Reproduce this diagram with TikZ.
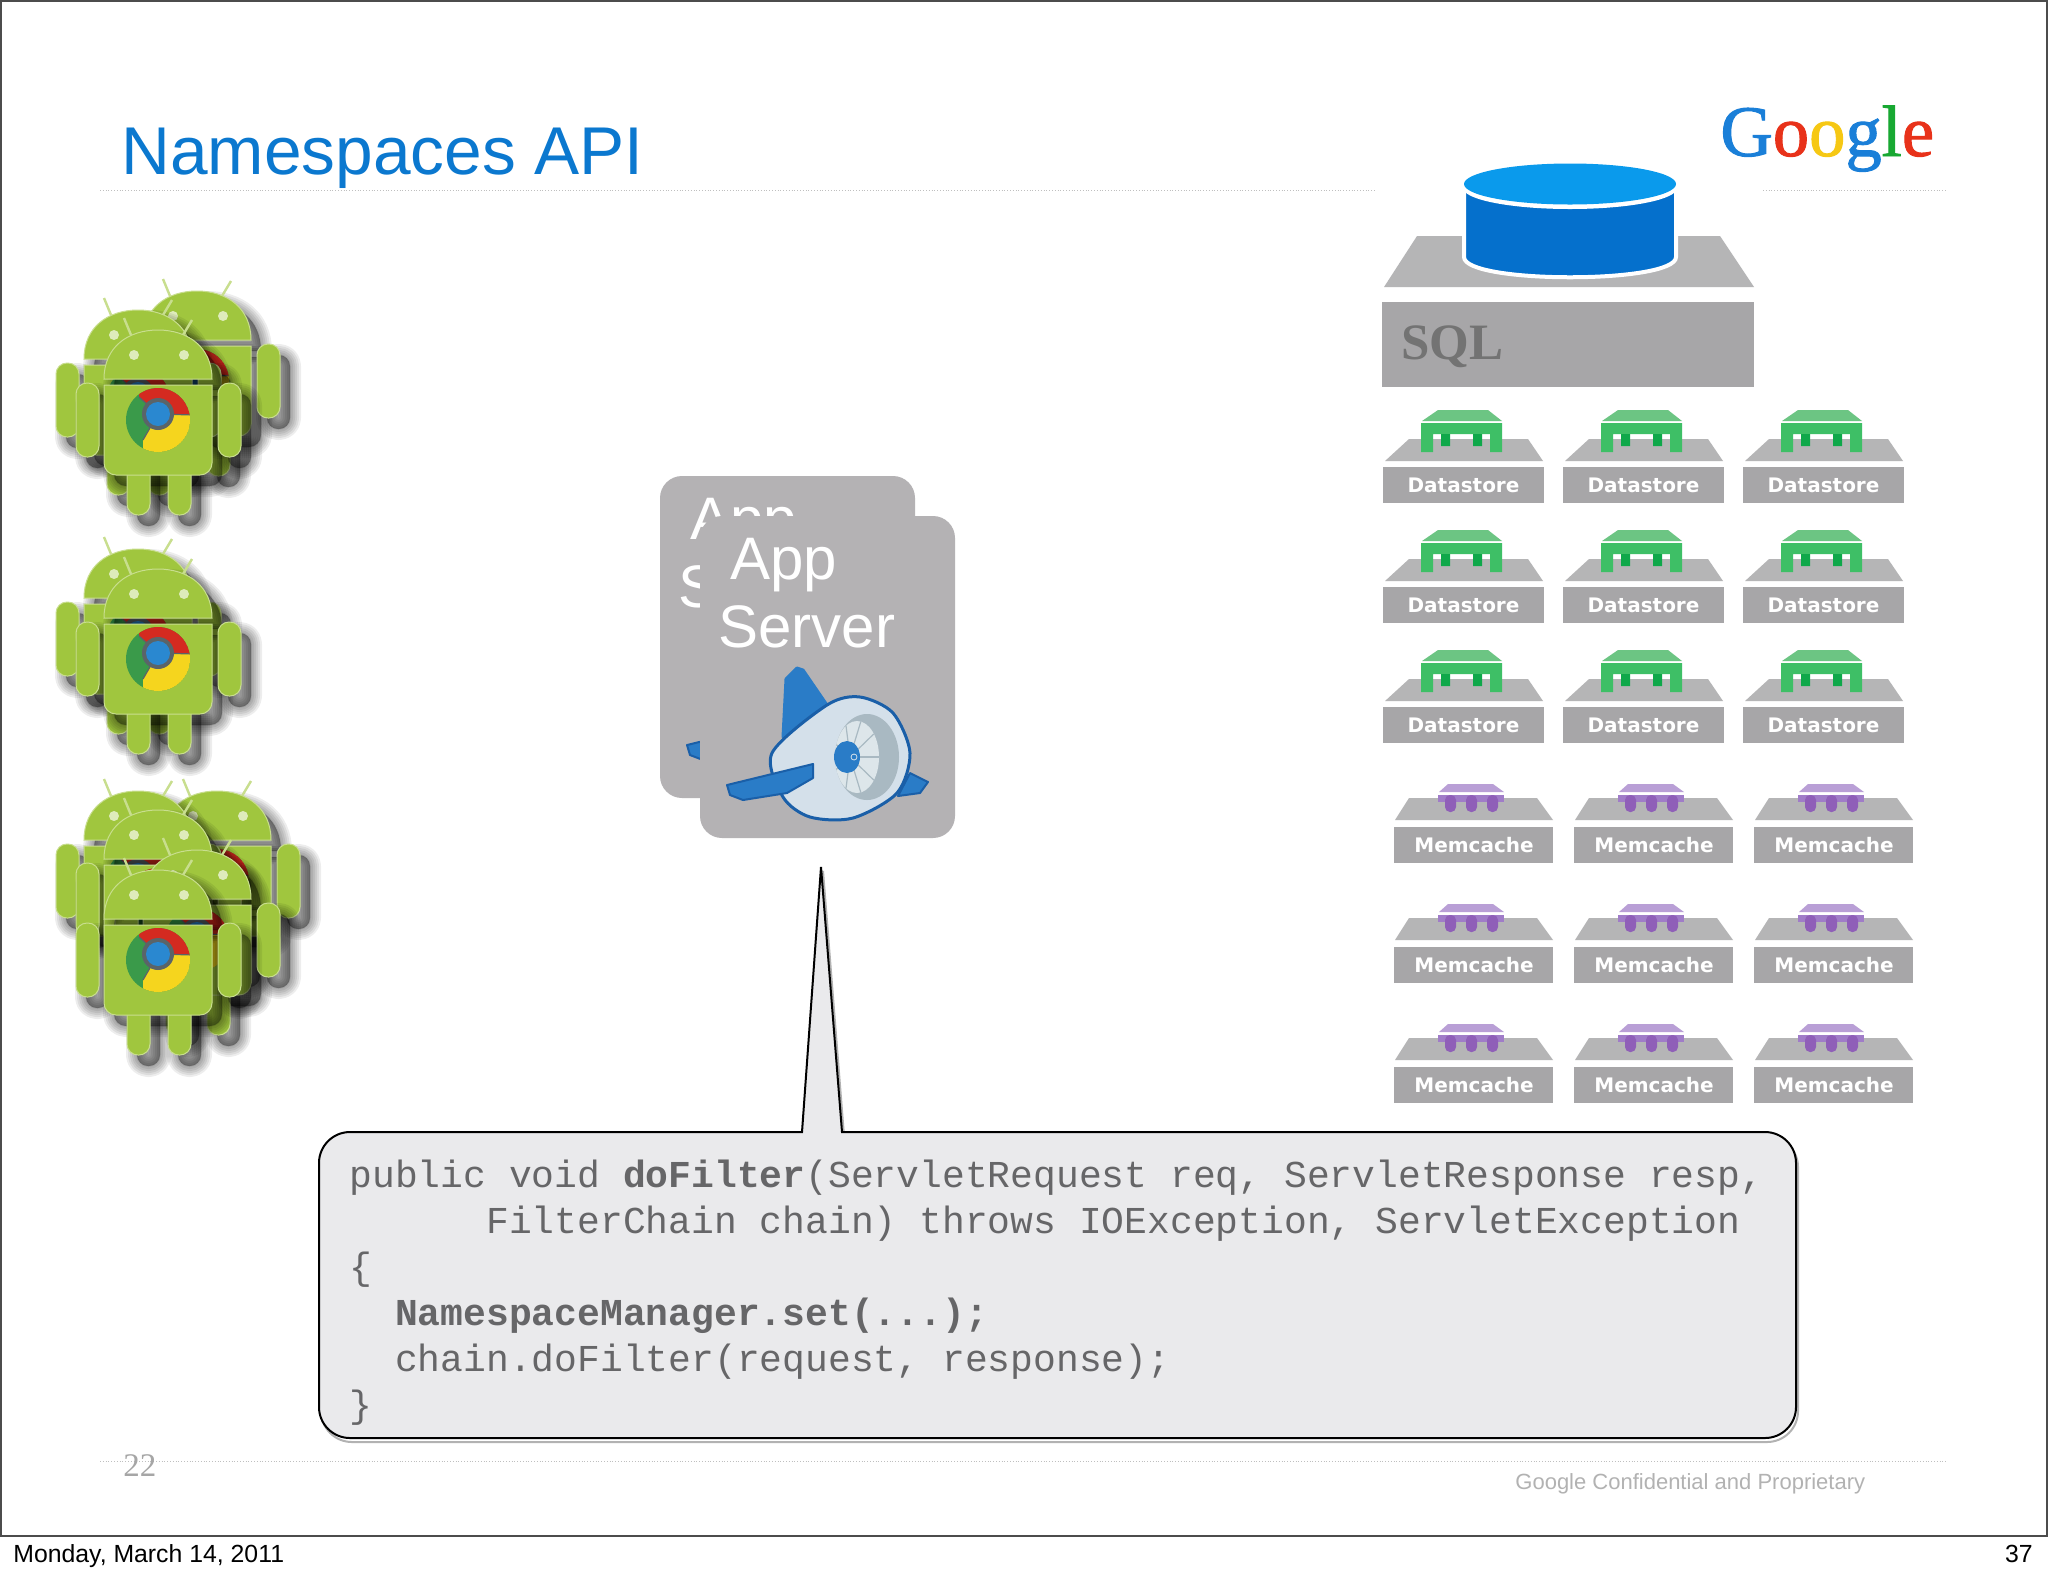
\documentclass[tikz,border=0pt]{standalone}
\usepackage{xcolor}
\usepackage{fontspec}
\usepackage{tikz}
\setmainfont{Liberation Sans}
\setmonofont{Liberation Mono}
\newfontfamily\serifbox{Liberation Serif}
\newfontfamily\logobox[FakeBold=1.3]{Liberation Serif}
\newfontfamily\labelbox{DejaVu Sans}

\definecolor{titleblue}{HTML}{0B78CF}
\definecolor{droidgreen}{HTML}{A0C63E}
\definecolor{droidedge}{HTML}{C8DE8E}
\definecolor{cardgray}{HTML}{B4B2B4}
\definecolor{topgray}{HTML}{B5B5B6}
\definecolor{boxgray}{HTML}{A7A6A8}
\definecolor{codegray}{HTML}{666668}
\definecolor{calloutgray}{HTML}{EAEAEC}
\definecolor{planeblue}{HTML}{2A7CC7}
\definecolor{planedark}{HTML}{1A5FA8}
\definecolor{planebody}{HTML}{D4E0EA}
\definecolor{planefan}{HTML}{A9B9C2}
\definecolor{planeblade}{HTML}{DDE6EA}
\definecolor{dbside}{HTML}{0570CC}
\definecolor{dbtop}{HTML}{0A9AEC}
\definecolor{dstop}{HTML}{6CC583}
\definecolor{dsfront}{HTML}{3EBF66}
\definecolor{dsdark}{HTML}{0FA84A}
\definecolor{mctop}{HTML}{B99FD6}
\definecolor{mcfront}{HTML}{A07CC8}
\definecolor{mcpeg}{HTML}{8F5FB8}
\definecolor{logoblue}{HTML}{1A7FD8}
\definecolor{logored}{HTML}{E8321A}
\definecolor{logoyellow}{HTML}{F6C814}
\definecolor{logogreen}{HTML}{18A832}
\definecolor{chromegreen}{HTML}{3A9A4A}
\definecolor{chromered}{HTML}{D42A20}
\definecolor{chromeyellow}{HTML}{F5D51E}
\definecolor{chromeblue}{HTML}{2A88D0}
\definecolor{chromering}{HTML}{5A6468}

\tikzset{
  pagetext/.style={inner sep=0pt, anchor=base west},
  cardtext/.style={pagetext, text=white, font=\fontsize{30}{31}\selectfont},
  boxtext/.style={inner sep=0pt, text=white, font=\labelbox\bfseries\fontsize{10}{12}\selectfont},
  dotline/.style={densely dotted, draw=black!25, line width=0.4pt},
  droidbody/.style={fill=droidgreen, draw=droidedge, line width=0.5pt},
  droidshadow/.style={fill=black, draw=black, opacity=0.07, line join=round}
}

% silhouette of one robot, origin at the top middle of its body
\newcommand{\droidshape}[1]{
  \path[#1] (-54,-6) .. controls (-54,-38) and (-30,-55) .. (0,-55)
      .. controls (30,-55) and (54,-38) .. (54,-6) -- cycle;
  \path[#1, rounded corners=5.5pt] (-82,-2) rectangle (-59,72);
  \path[#1, rounded corners=5.5pt] (60,-2) rectangle (83,72);
  \path[#1, rounded corners=5.5pt] (-31,70) rectangle (-8,130);
  \path[#1, rounded corners=5.5pt] (10,70) rectangle (33,130);
  \path[#1] (-54,0) -- (54,0) [rounded corners=6pt] -- (54,90) -- (-54,90) [sharp corners] -- cycle;
}

\newcommand{\droidbot}[2]{
  \begin{scope}[shift={(#1,#2)}]
    \begin{scope}[shift={(10,11)}]
      \foreach \w in {11,9,7,5,3,1} {\droidshape{droidshadow, line width=\w pt}}
    \end{scope}
    \draw[droidedge, line width=1.2pt] (-27,-50) -- (-34,-67) (25,-50) -- (34,-65);
    \droidshape{droidbody}
    \fill[droidedge!60!white] (-24,-30) circle (5) (26,-30) circle (5);
    % chrome logo
    \begin{scope}
      \clip (0,35) circle (32);
      \fill[chromegreen] (0,35) circle (32);
      \fill[chromered] (-19,12) -- (-19,-2) -- (36,-2) -- (36,30) -- (0,29) -- cycle;
      \fill[chromeyellow] (36,30) -- (36,70) -- (-15,70) -- (-15,55) -- (0,29) -- cycle;
      \draw[chromering, line width=0.6pt] (-19,12) -- (0,29) -- (36,30) (0,29) -- (-15,55);
    \end{scope}
    \fill[chromering] (0,29) circle (16);
    \fill[chromeblue] (0,29) circle (12);
  \end{scope}
}

\newcommand{\appcard}[3]{
  \begin{scope}[shift={(#2,#3)}]
    \fill[cardgray, rounded corners=11pt] (0,0) rectangle (255,322);
    \node[cardtext] (#1app) at (30,63) {App};
    \node[cardtext] (#1server) at (18,131) {Server};
    \filldraw[fill=planeblue, draw=planeblue, line width=1.5pt, line join=round] (86,163) -- (97,152) -- (103,154) -- (127,189) -- (83,221) -- cycle;
    \filldraw[fill=planeblue, draw=planedark, line width=1pt, line join=round] (210,257) -- (228,266) -- (220,277) -- (198,280) -- cycle;
    \filldraw[fill=planebody, draw=planedark, line width=1.5pt] plot[smooth cycle] coordinates
      {(72,237) (127,189) (160,181) (193,197) (210,237) (197,277) (153,302) (110,301) (83,281)};
    \fill[planefan] (167,241) ellipse [x radius=32, y radius=43];
    \fill[planeblade] (157,241) ellipse [x radius=22, y radius=36];
    \foreach \a in {0,40,...,320} {
      \draw[planefan, line width=0.6pt] (150,241) -- ({157+22*cos(\a)},{241+36*sin(\a)});
    }
    \fill[planeblue] (147,241) ellipse [x radius=13, y radius=16];
    \draw[planebody, line width=0.4pt] (154,241) circle (3);
    \filldraw[fill=planeblue, draw=planedark, line width=1pt, line join=round] (27,269) -- (113,248) -- (113,262) -- (87,277) -- (43,284) -- (30,279) -- cycle;
  \end{scope}
}

\newcommand{\datastorebox}[3]{
  \begin{scope}[shift={(#2,#3)}]
    \fill[topgray] (2,-6) -- (26,-28) -- (145,-28) -- (160,-6) -- cycle;
    \fill[boxgray] (0,0) rectangle (161,36);
    \node[boxtext] (#1) at (80.5,18) {Datastore};
    \fill[dstop] (39,-46) -- (55,-57) -- (105,-57) -- (119,-46) -- cycle;
    \fill[dsfront] (38,-44) -- (119,-44) -- (119,-15) -- (107,-15) -- (107,-33) -- (50,-33) -- (50,-15) -- (38,-15) -- cycle;
    \fill[dsdark] (58,-33) rectangle (67,-21) (90,-33) rectangle (99,-21);
  \end{scope}
}

\newcommand{\memcachebox}[3]{
  \begin{scope}[shift={(#2,#3)}]
    \fill[topgray] (1,-7) -- (15,-29) -- (143,-29) -- (159,-7) -- cycle;
    \fill[boxgray] (0,0) rectangle (159,36);
    \node[boxtext] (#1) at (80,18) {Memcache};
    \fill[mctop] (45,-35) -- (54,-43) -- (99,-43) -- (110,-35) -- cycle;
    \fill[mcfront] (44,-32) rectangle (110,-25);
    \foreach \px in {51,72,93} {
      \fill[mcpeg, rounded corners=2.5pt] (\px,-32) rectangle (\px+11,-15);
    }
  \end{scope}
}

\newcommand{\calloutpath}[1]{
  \path[#1] (802,1132) -- (821,867) -- (842,1132) [rounded corners=15.5pt] -- (1796,1132)
      -- (1796,1438) -- (319,1438) -- (319,1132) [sharp corners] -- (802,1132) -- cycle;
}

\begin{document}
\begin{tikzpicture}[x=0.5pt, y=-0.5pt]
  \useasboundingbox (0,0) rectangle (2048,1576);
  \fill[white] (0,0) rectangle (2048,1576);
  \draw[black!70, line width=1pt] (1,1) rectangle (2047,1536);

  \node[pagetext, text=titleblue, font=\fontsize{33.8}{36}\selectfont] (title) at (121,174) {Namespaces API};
  \node[pagetext, font=\logobox\fontsize{36.3}{36}\selectfont] (logo) at (1720,156)
    {\textcolor{logoblue}{G}\textcolor{logored}{o}\textcolor{logoyellow}{o}\textcolor{logoblue}{g}\textcolor{logogreen}{l}\textcolor{logored}{e}};
  \draw[dotline] (100,190) -- (1375,190) (1763,190) -- (1947,190);
  \draw[dotline] (100,1461) -- (1947,1461);

  % phones
  \droidbot{197}{346}
  \droidbot{138}{365}
  \droidbot{158}{385}

  \droidbot{138}{604}
  \droidbot{158}{624}

  \droidbot{217}{846}
  \droidbot{138}{846}
  \droidbot{158}{865}
  \droidbot{197}{905}
  \droidbot{158}{925}

  % app servers
  \appcard{back}{660}{476}
  \appcard{front}{700}{516}

  % sql
  \fill[topgray] (1384,287) -- (1417,236) -- (1720,236) -- (1754,287) -- cycle;
  \fill[boxgray] (1382,302) rectangle (1754,387);
  \node[pagetext, text=black!55, font=\serifbox\bfseries\fontsize{25.5}{26}\selectfont] (sql) at (1401,359) {SQL};
  \filldraw[fill=dbside, draw=white, line width=2pt] (1464,184) -- (1464,257)
      .. controls (1464,284) and (1676,284) .. (1676,257) -- (1676,184) -- cycle;
  \fill[white] (1570,188) ellipse [x radius=107, y radius=21];
  \fill[dbtop] (1570,184) ellipse [x radius=106, y radius=20.5];

  % storage boxes
  \foreach \row/\rowy in {0/467,1/587,2/707} {
    \foreach \col/\colx in {0/1383,1/1563,2/1743} {
      \datastorebox{ds\row\col}{\colx}{\rowy}
    }
  }
  \foreach \row/\rowy in {0/827,1/947,2/1067} {
    \foreach \col/\colx in {0/1394,1/1574,2/1754} {
      \memcachebox{mc\row\col}{\colx}{\rowy}
    }
  }

  % callout
  \begin{scope}[shift={(2,4)}]
    \calloutpath{draw=black!30, line width=1pt}
  \end{scope}
  \calloutpath{fill=calloutgray, draw=black, line width=1pt, line join=miter}
  \node[anchor=north west, inner sep=0pt, align=left, text=codegray, font=\ttfamily\fontsize{19}{23}\selectfont] (code) at (349,1160)
    {public void \textbf{doFilter}(ServletRequest req, ServletResponse resp,\\
     \phantom{xxxxxx}FilterChain chain) throws IOException, ServletException\\
     \{\\
     \phantom{xx}\textbf{NamespaceManager.set(...);}\\
     \phantom{xx}chain.doFilter(request, response);\\
     \}};

  % footer
  \node[pagetext, text=black!35, font=\serifbox\fontsize{16.5}{18}\selectfont] (pagenum) at (123,1476) {22};
  \node[pagetext, text=black!30, font=\fontsize{11}{13}\selectfont] (conf) at (1515,1489) {Google Confidential and Proprietary};
  \node[pagetext, font=\fontsize{12.4}{14}\selectfont] (date) at (13,1562) {Monday, March 14, 2011};
  \node[inner sep=0pt, anchor=base east, font=\fontsize{12.4}{14}\selectfont] (sheet) at (2033,1562) {37};
\end{tikzpicture}
\end{document}
